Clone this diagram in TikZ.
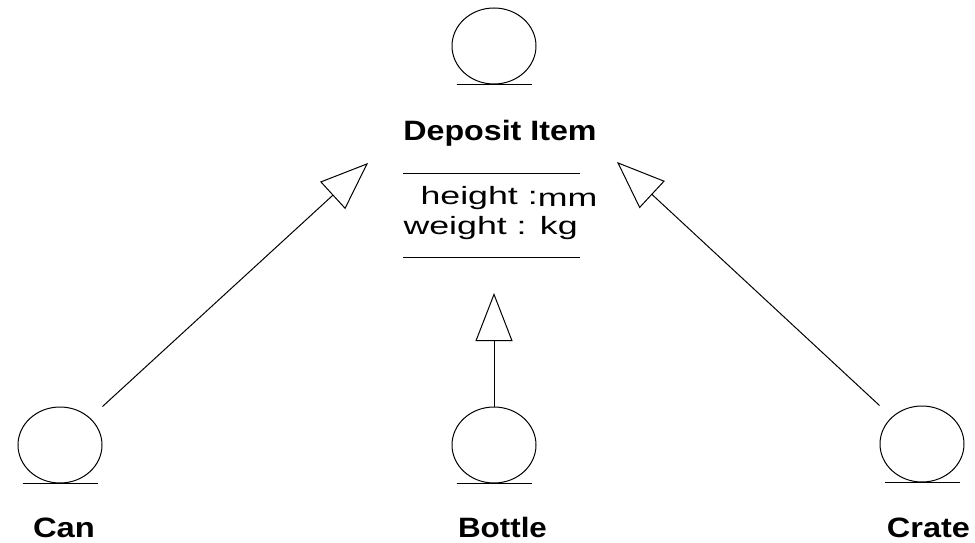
\documentclass[tikz,border=0pt]{standalone}
\usepackage{fontspec}
\setmainfont{Liberation Sans}
\usepackage{graphicx}
\usetikzlibrary{arrows.meta}
\begin{document}
\begin{tikzpicture}[x=1pt,y=-1pt, line width=1pt,
  obj/.style={rectangle, minimum width=84pt, minimum height=76pt, inner sep=0pt},
  lbl/.style={font=\fontsize{28}{30}\selectfont\bfseries, anchor=base, inner sep=0pt},
  attr/.style={font=\fontsize{25}{28}\selectfont, anchor=base west, inner sep=0pt},
  gen/.style={-{Triangle[open,length=48pt,width=37pt]}}]
\useasboundingbox (0,0) rectangle (975,543);
\node[obj] (dep) at (494,46) {};
\node[obj] (can) at (60,445) {};
\node[obj] (bottle) at (494,445) {};
\node[obj] (crate) at (922,444) {};
\foreach \n in {dep,can,bottle,crate}{
  \draw (\n.center) ellipse [x radius=42pt, y radius=38pt];
  \draw ([xshift=-37.5pt]\n.south) -- ([xshift=37.5pt]\n.south);
}
\node[lbl] (depname) at (500,140) {\scalebox{1.15}[1]{Deposit Item}};
\draw (403,173) -- (580,173);
\node[attr] (h) at (420,204) {\scalebox{1.43}[1]{height :\raisebox{-2pt}{mm}}};
\node[attr] (w) at (403,234) {\scalebox{1.43}[1]{weight : kg}};
\draw (403,257) -- (580,257);
\node[lbl] (canl) at (64,537) {\scalebox{1.17}[1]{Can}};
\node[lbl] (bottlel) at (502.5,537) {\scalebox{1.12}[1]{Bottle}};
\node[lbl] (cratel) at (928.5,537) {\scalebox{1.16}[1]{Crate}};
\coordinate (tipL) at (368,163);
\coordinate (tipR) at (617,162);
\coordinate (tipB) at (494,293);
\draw[gen] (can.north east) -- (tipL);
\draw[gen] (crate.north west) -- (tipR);
\draw[gen] (bottle.north) -- (tipB);
\end{tikzpicture}
\end{document}
